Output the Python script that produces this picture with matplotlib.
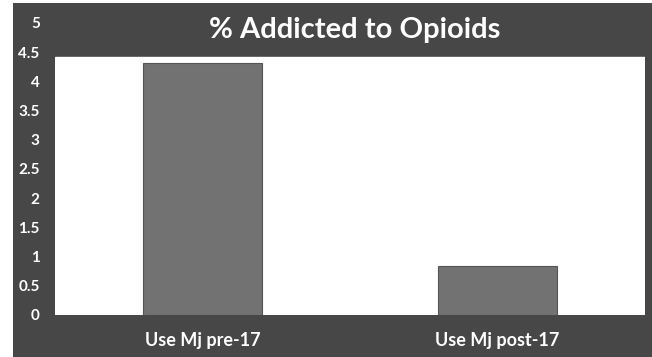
import matplotlib
matplotlib.use("Agg")
import matplotlib.pyplot as plt
from matplotlib.patches import Rectangle

# data
categories = ["Use Mj pre-17", "Use Mj post-17"]
values = [4.32, 0.84]
yticks = [0, 0.5, 1, 1.5, 2, 2.5, 3, 3.5, 4, 4.5, 5]
ytick_labels = ["0", "0.5", "1", "1.5", "2", "2.5", "3", "3.5", "4", "4.5", "5"]
title = "% Addicted to Opioids"

BG = "#474747"
BAR = "#727272"
FONT = ["Lato", "DejaVu Sans"]

W, H = 652, 357
fig = plt.figure(figsize=(W / 100, H / 100), dpi=100, facecolor="white")

# dark chart area (scan leaves a white strip on the left)
fig.patches.append(Rectangle((13 / W, 0), 1 - 13 / W, 1 - 3 / H,
                             transform=fig.transFigure, facecolor=BG,
                             edgecolor="none", zorder=-5))

ax = fig.add_axes([55 / W, 42 / H, 590 / W, 292 / H])
ax.set_facecolor(BG)
ax.set_xlim(-0.5, 1.5)
ax.set_ylim(0, 5)
ax.axhspan(0, 4.42, color="white", zorder=0)

ax.bar(range(len(categories)), values, width=0.405, color=BAR,
       edgecolor="#555555", linewidth=0.8, zorder=2)

for s in ax.spines.values():
    s.set_visible(False)
ax.set_yticks(yticks)
ax.set_yticklabels(ytick_labels, color="white", fontsize=11,
                   fontweight="bold", family=FONT)
ax.set_xticks(range(len(categories)))
ax.set_xticklabels(categories, color="white", fontsize=13,
                   fontweight="bold", family=FONT)
ax.tick_params(axis="both", length=0)
ax.tick_params(axis="y", pad=11)
ax.tick_params(axis="x", pad=12)

fig.text(355 / W, 1 - 30 / H, title, color="white", fontsize=21,
         fontweight="bold", family=FONT, ha="center", va="center")

fig.savefig("out.png", dpi=100, facecolor=fig.get_facecolor())
